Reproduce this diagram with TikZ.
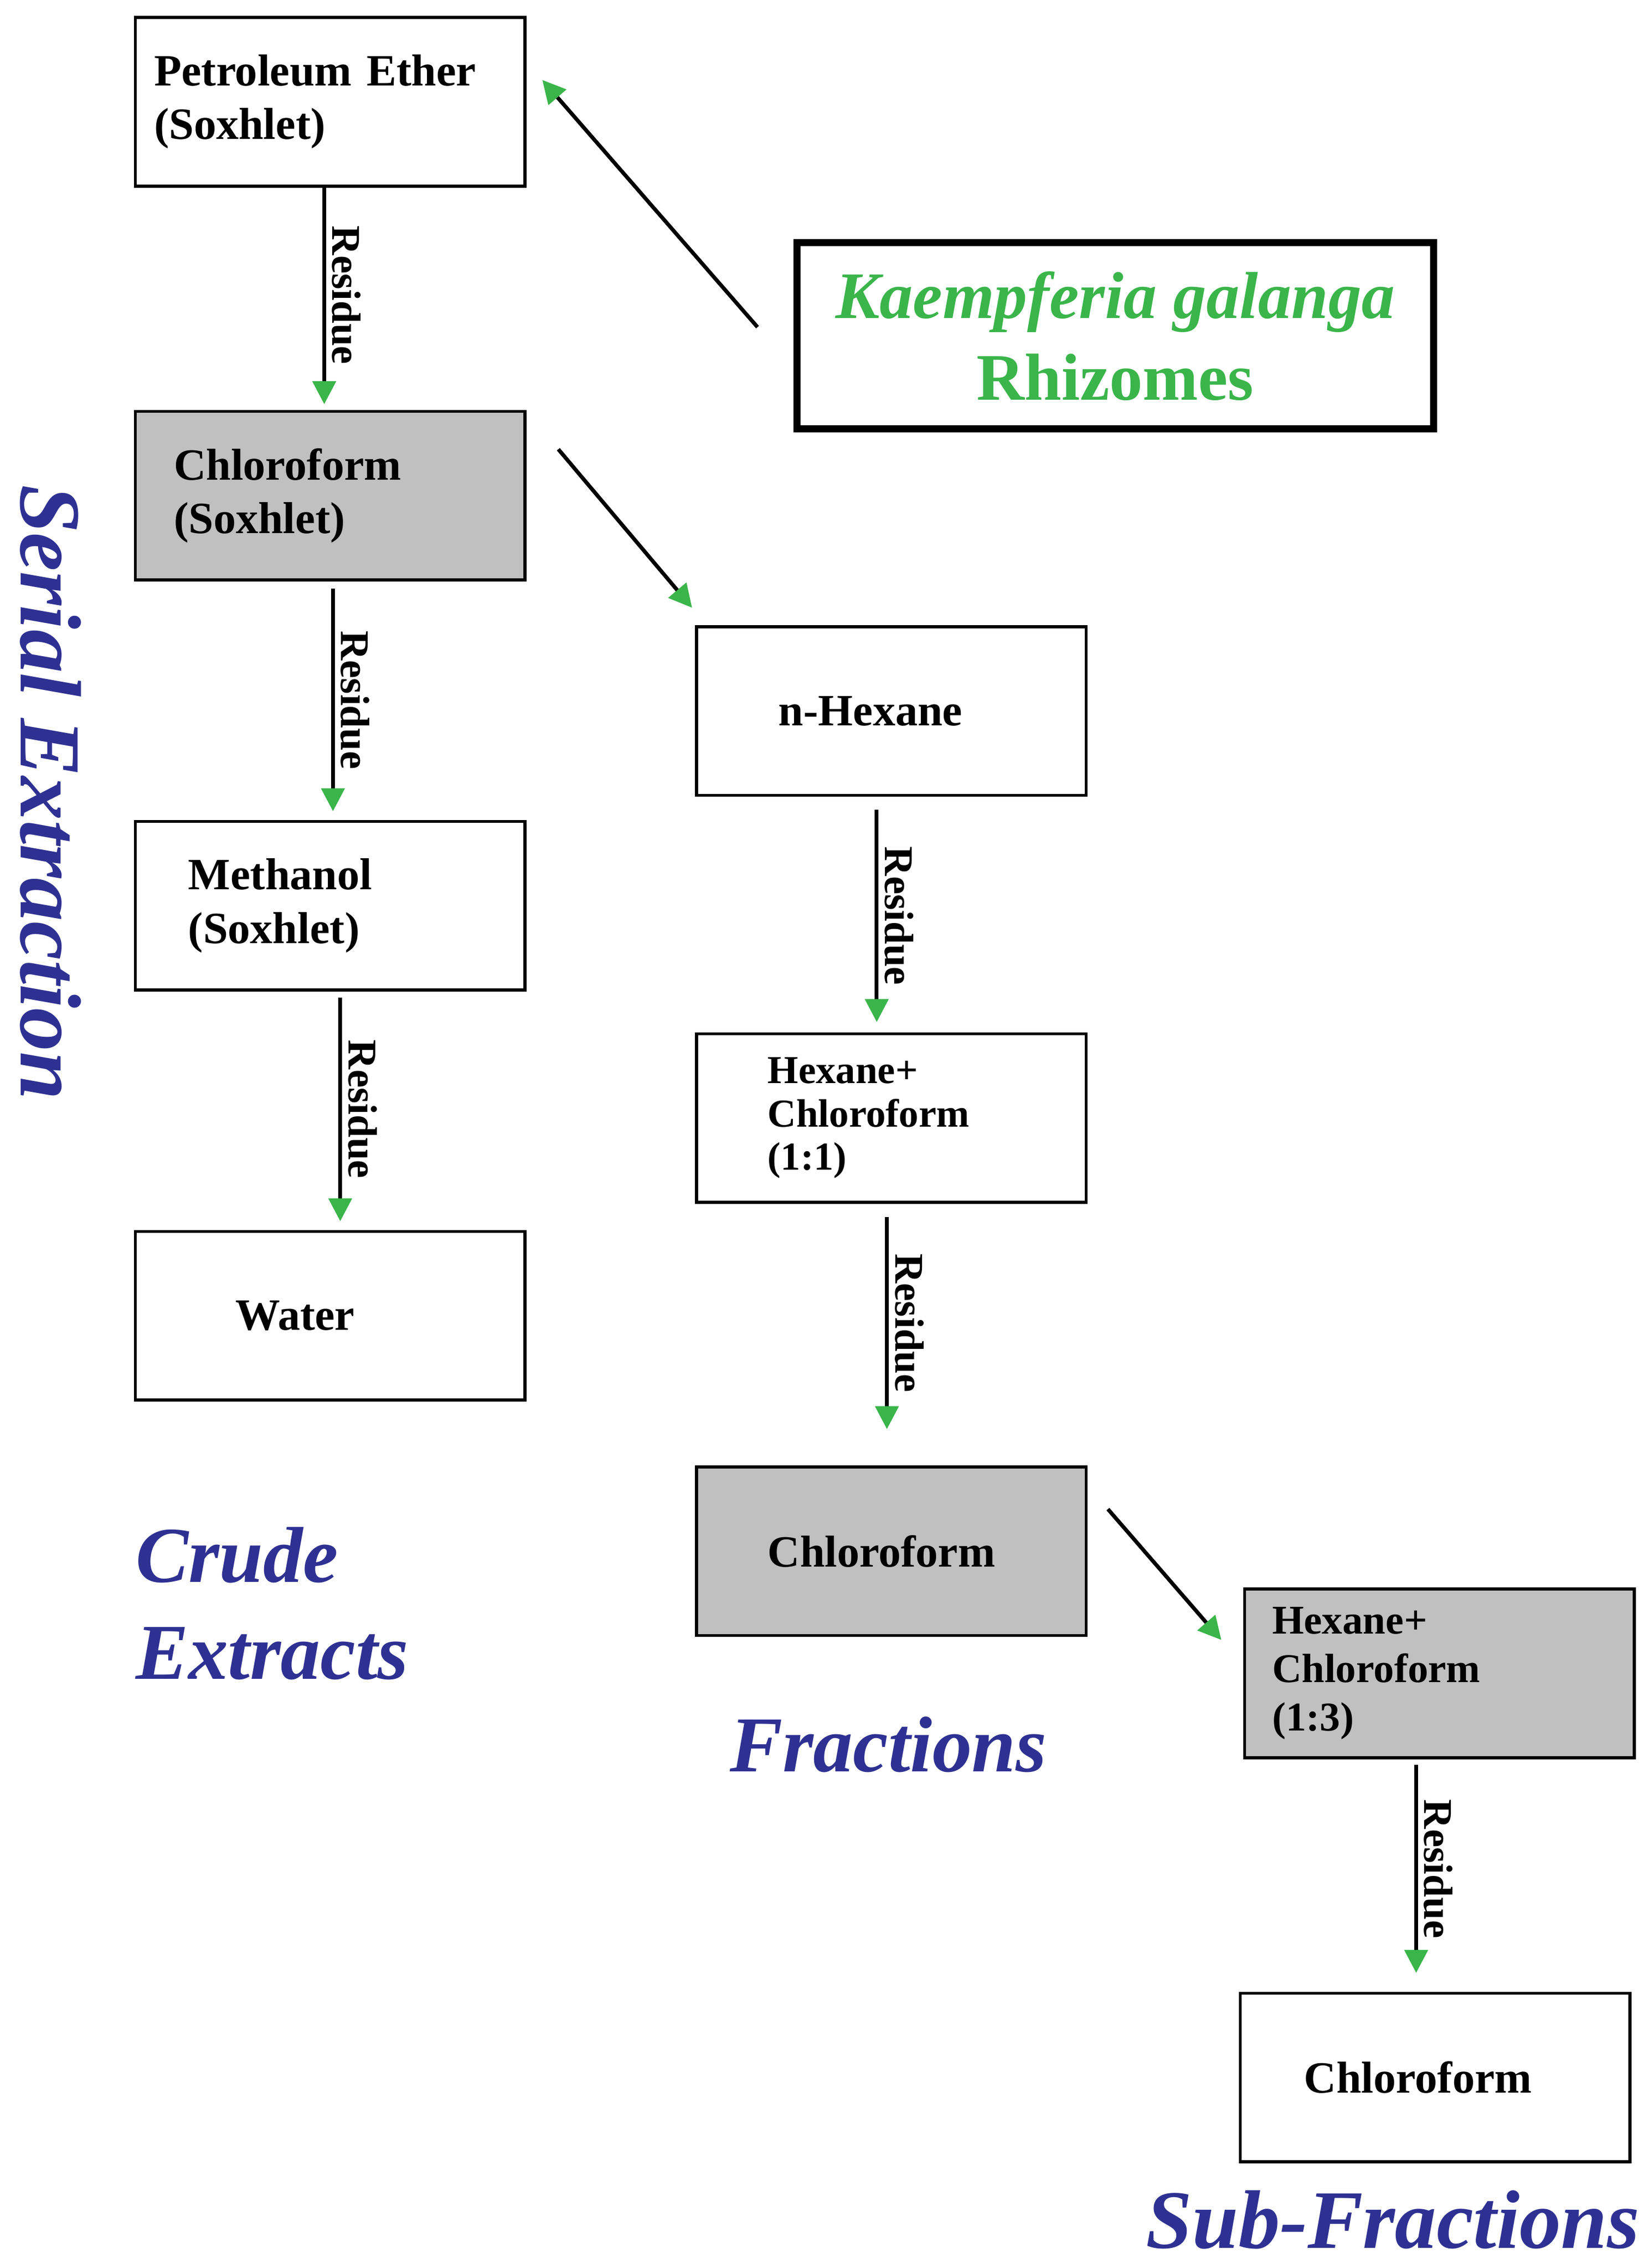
\documentclass[tikz,border=0pt]{standalone}
\usepackage{fontspec}
\setmainfont{Liberation Serif}
\usetikzlibrary{arrows.meta}
\definecolor{kblue}{HTML}{2E3192}
\definecolor{kgreen}{HTML}{3AB54A}
\definecolor{kgray}{HTML}{C0C0C0}
\begin{document}
\begin{tikzpicture}[x=0.02cm,y=-0.02cm]
\tikzset{
  box/.style={draw,line width=1.2pt,minimum width=5.36cm,minimum height=2.32cm,
    font=\fontsize{17.5}{21}\selectfont\bfseries,align=left,inner ysep=0pt},
  shaded/.style={fill=kgray},
  flow/.style={line width=1.5pt,-{Triangle[color=kgreen,length=9pt,width=9pt]}},
  res/.style={font=\fontsize{16}{18}\selectfont\bfseries,rotate=-90,midway,above,yshift=-1pt},
  big/.style={font=\fontsize{31}{38}\selectfont\bfseries\itshape,text=kblue,align=left}
}
\useasboundingbox (0,0) rectangle (1134,1560);
\node[box,text width=4.84cm] (pe) at (227,70) {Petroleum Ether\\(Soxhlet)};
\node[draw,line width=2.8pt,minimum width=8.76cm,minimum height=2.56cm,text=kgreen,
  font=\fontsize{26}{32}\selectfont\bfseries,align=center] (kg) at (767,231)
  {\textit{Kaempferia galanga}\\Rhizomes};
\node[box,shaded,text width=4.3cm] (c1) at (227,341) {Chloroform\\(Soxhlet)};
\node[box,text width=3.9cm] (me) at (227,623) {Methanol\\(Soxhlet)};
\node[box,text width=2.6cm] (wa) at (227,905) {Water};
\node[box,text width=3.1cm] (nh) at (613,489) {n-Hexane};
\node[box,text width=3.4cm,font=\fontsize{15.5}{17}\selectfont\bfseries] (h11) at (613,769) {Hexane+\\Chloroform\\(1:1)};
\node[box,shaded,text width=3.4cm] (c2) at (613,1067) {Chloroform};
\node[box,shaded,text width=4.6cm,font=\fontsize{16}{19}\selectfont\bfseries] (h13) at (990,1151) {Hexane+\\Chloroform\\(1:3)};
\node[box,text width=3.6cm] (c3) at (987,1429) {Chloroform};

\coordinate (k0) at (521,225);
\coordinate (c1r) at (384,309);
\coordinate (c2r) at (762,1038);
\draw[flow] (k0) -- (373,55);
\draw[flow] (223,128) -- node[res]{Residue} (223,278);
\draw[flow] (229,405) -- node[res]{Residue} (229,558);
\draw[flow] (234,686) -- node[res]{Residue} (234,840);
\draw[flow] (c1r) -- (476,418);
\draw[flow] (603,557) -- node[res]{Residue} (603,703);
\draw[flow] (610,837) -- node[res]{Residue} (610,983);
\draw[flow] (c2r) -- (840,1128);
\draw[flow] (974,1214) -- node[res]{Residue} (974,1357);

\node[big,rotate=-90,font=\fontsize{34}{38}\selectfont\bfseries\itshape] (se) at (35,545) {Serial Extraction};
\node[big,anchor=north west,inner sep=0pt] (ce) at (93,1050) {Crude\\Extracts};
\node[big] (fr) at (611,1200) {Fractions};
\node[big,font=\fontsize{32.5}{38}\selectfont\bfseries\itshape] (sf) at (958,1527) {Sub-Fractions};
\end{tikzpicture}
\end{document}
